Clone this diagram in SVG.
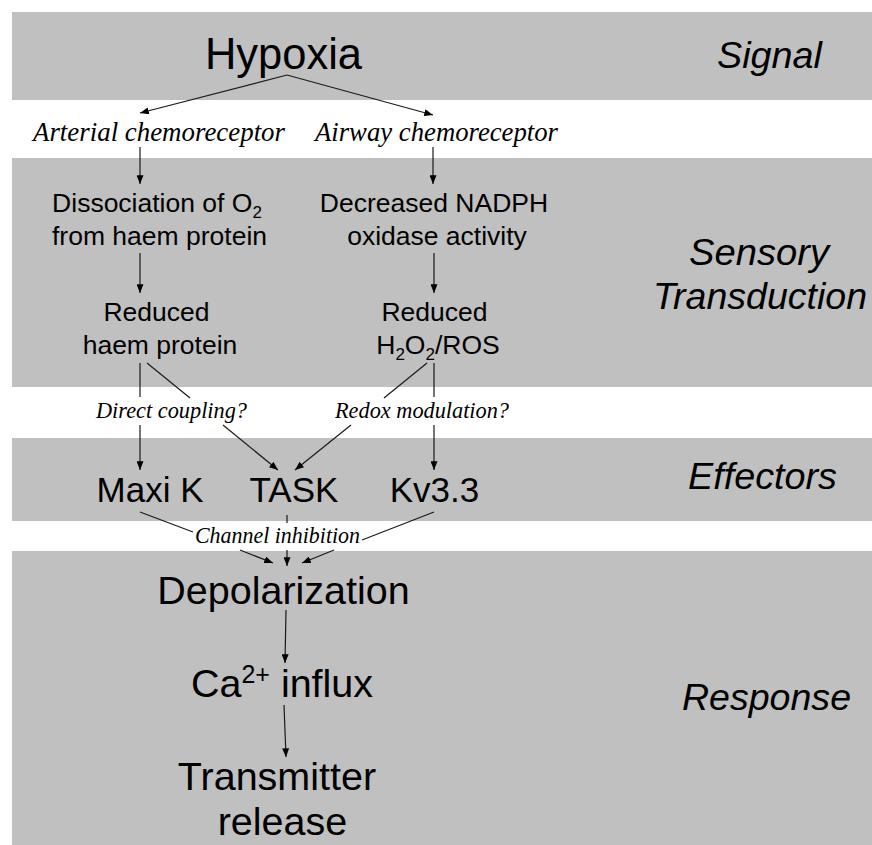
<svg xmlns="http://www.w3.org/2000/svg" width="872" height="845" viewBox="0 0 872 845">
<defs>
<style>
.band{fill:#c0c0c0}
.sans{font-family:"Liberation Sans",Arial,sans-serif;fill:#000}
.lab{font-family:"Liberation Sans",Arial,sans-serif;font-style:italic;fill:#000;font-size:37px}
.ser{font-family:"Liberation Serif","Times New Roman",serif;font-style:italic;fill:#000}
.c{stroke:#1a1a1a;stroke-width:1.2;fill:none}
.a{marker-end:url(#ah)}
</style>
<marker id="ah" viewBox="0 0 10 8" refX="10" refY="4" markerWidth="9" markerHeight="7" markerUnits="userSpaceOnUse" orient="auto">
<path d="M0,0 L10,4 L0,8 z" fill="#000"/>
</marker>
</defs>
<rect width="872" height="845" fill="#fff"/>
<g id="bands">
<rect class="band" x="12" y="12" width="860" height="88"/>
<rect class="band" x="12" y="158" width="860" height="229"/>
<rect class="band" x="12" y="438" width="860" height="83"/>
<rect class="band" x="12" y="551" width="860" height="294"/>
</g>
<g id="stage-labels">
<text class="lab" x="717" y="68" textLength="105" lengthAdjust="spacingAndGlyphs">Signal</text>
<text class="lab" x="689" y="265" textLength="140" lengthAdjust="spacingAndGlyphs">Sensory</text>
<text class="lab" x="653" y="309" textLength="214" lengthAdjust="spacingAndGlyphs">Transduction</text>
<text class="lab" x="688" y="489" textLength="149" lengthAdjust="spacingAndGlyphs">Effectors</text>
<text class="lab" x="682" y="710" textLength="169" lengthAdjust="spacingAndGlyphs">Response</text>
</g>
<g id="connectors">
<line class="c a" x1="287" y1="75" x2="140" y2="113"/>
<line class="c a" x1="287" y1="75" x2="433" y2="115"/>
<line class="c a" x1="140" y1="147" x2="140" y2="184"/>
<line class="c a" x1="433" y1="147" x2="433" y2="184"/>
<line class="c a" x1="140" y1="253" x2="140" y2="293"/>
<line class="c a" x1="434" y1="253" x2="434" y2="293"/>
<line class="c" x1="140" y1="363" x2="140" y2="397"/>
<line class="c a" x1="140" y1="425" x2="140" y2="470"/>
<line class="c" x1="147" y1="363" x2="190" y2="398"/>
<line class="c a" x1="223" y1="425" x2="278" y2="470"/>
<line class="c" x1="427" y1="363" x2="384" y2="398"/>
<line class="c a" x1="351" y1="425" x2="295" y2="470"/>
<line class="c" x1="434" y1="363" x2="434" y2="397"/>
<line class="c a" x1="434" y1="425" x2="434" y2="470"/>
<line class="c" x1="140" y1="512" x2="193" y2="532"/>
<line class="c a" x1="240" y1="550" x2="273" y2="563"/>
<line class="c" x1="287" y1="515" x2="287" y2="523"/>
<line class="c a" x1="287" y1="550" x2="287" y2="566"/>
<line class="c" x1="434" y1="512" x2="362" y2="540"/>
<line class="c a" x1="334" y1="550" x2="302" y2="563"/>
<line class="c a" x1="286" y1="610" x2="285" y2="663"/>
<line class="c a" x1="284" y1="705" x2="286" y2="757"/>
</g>
<g id="hypoxia"><text class="sans" x="283.5" y="69" font-size="43.5" text-anchor="middle">Hypoxia</text></g>
<g id="arterial"><text class="ser" x="33" y="141" font-size="27" textLength="252" lengthAdjust="spacingAndGlyphs">Arterial chemoreceptor</text></g>
<g id="airway"><text class="ser" x="315" y="141" font-size="27" textLength="243" lengthAdjust="spacingAndGlyphs">Airway chemoreceptor</text></g>
<g id="dissociation"><text class="sans" font-size="26.5" text-anchor="middle"><tspan x="157" y="212">Dissociation of O<tspan font-size="17" dy="6">2</tspan></tspan><tspan x="159.5" y="245">from haem protein</tspan></text></g>
<g id="nadph"><text class="sans" font-size="26.5" text-anchor="middle"><tspan x="434" y="212">Decreased NADPH</tspan><tspan x="437" y="245">oxidase activity</tspan></text></g>
<g id="reduced-haem"><text class="sans" font-size="26.5" text-anchor="middle"><tspan x="156.5" y="321">Reduced</tspan><tspan x="160" y="354">haem protein</tspan></text></g>
<g id="reduced-ros"><text class="sans" font-size="26.5" text-anchor="middle"><tspan x="434.5" y="321">Reduced</tspan><tspan x="438" y="354">H<tspan font-size="17" dy="6">2</tspan><tspan dy="-6">O</tspan><tspan font-size="17" dy="6">2</tspan><tspan dy="-6">/ROS</tspan></tspan></text></g>
<g id="direct"><text class="ser" x="96" y="418" font-size="22.5" textLength="151" lengthAdjust="spacingAndGlyphs">Direct coupling?</text></g>
<g id="redox"><text class="ser" x="335" y="418" font-size="22.5" textLength="174" lengthAdjust="spacingAndGlyphs">Redox modulation?</text></g>
<g id="maxik"><text class="sans" x="150" y="502" font-size="35" text-anchor="middle">Maxi K</text></g>
<g id="task"><text class="sans" x="294" y="502" font-size="35" text-anchor="middle">TASK</text></g>
<g id="kv33"><text class="sans" x="434.5" y="502" font-size="35" text-anchor="middle">Kv3.3</text></g>
<g id="channel"><text class="ser" x="195" y="543" font-size="22.5" textLength="165" lengthAdjust="spacingAndGlyphs">Channel inhibition</text></g>
<g id="depolarization"><text class="sans" x="283.5" y="604" font-size="39.5" text-anchor="middle">Depolarization</text></g>
<g id="calcium"><text class="sans" x="282" y="697" font-size="39.5" text-anchor="middle">Ca<tspan font-size="25" dy="-14">2+</tspan><tspan dy="14"> influx</tspan></text></g>
<g id="transmitter"><text class="sans" font-size="39.5" text-anchor="middle"><tspan x="277" y="790">Transmitter</tspan><tspan x="282.5" y="835">release</tspan></text></g>
</svg>
